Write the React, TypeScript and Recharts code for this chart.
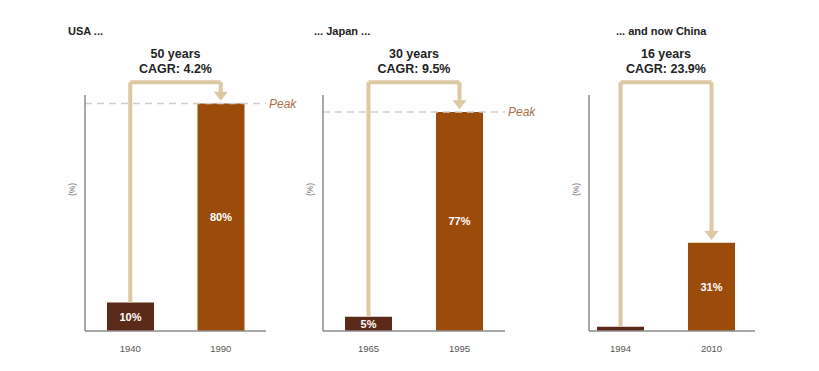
import {
  Bar,
  BarChart,
  Cell,
  LabelList,
  ReferenceLine,
  XAxis,
  YAxis,
} from 'recharts';

const usaYears = ['1940', '1990'];
const usaValues = [10, 80];
const usaLabels = ['10%', '80%'];

const japanYears = ['1965', '1995'];
const japanValues = [5, 77];
const japanLabels = ['5%', '77%'];

const chinaYears = ['1994', '2010'];
const chinaValues = [1.5, 31];
const chinaLabels = ['', '31%'];

const titles = ['USA ...', '... Japan ...', '... and now China'];
const spans = ['50 years', '30 years', '16 years'];
const cagrs = ['CAGR: 4.2%', 'CAGR: 9.5%', 'CAGR: 23.9%'];
const peaks = [80, 77, null];

const COLOR = {
  start: '#5b2a18',
  end: '#9b4c0b',
  arrow: '#dcc8a2',
  axis: '#8c8c8c',
  peakLine: '#cfcfcf',
  peakText: '#a8714a',
  tick: '#555',
};

const ARROW_TOP = 87.5;
const FONT = '"Liberation Sans", Arial, sans-serif';

function ArrowDown(props: any) {
  const { x1, y1, x2, y2 } = props;
  const head = 9;
  const tipY = Math.max(y1, y2);
  const topY = Math.min(y1, y2);
  return (
    <g>
      <line x1={x1} y1={topY} x2={x2} y2={tipY - head + 1} stroke={COLOR.arrow} strokeWidth={4} />
      <polygon
        points={`${x2 - 7},${tipY - head} ${x2 + 7},${tipY - head} ${x2},${tipY}`}
        fill={COLOR.arrow}
      />
    </g>
  );
}

function Note(props: any) {
  const { viewBox, lines } = props;
  const cx = viewBox.x + viewBox.width / 2;
  return (
    <g fontFamily={FONT} fontWeight="bold" fontSize={12.5} fill="#222" textAnchor="middle">
      <text x={cx} y={viewBox.y - 24}>{lines[0]}</text>
      <text x={cx} y={viewBox.y - 9}>{lines[1]}</text>
    </g>
  );
}

function UnitLabel(props: any) {
  const { viewBox } = props;
  const x = viewBox.x - 9;
  const y = viewBox.y + viewBox.height * 0.4;
  return (
    <text
      x={x}
      y={y}
      transform={`rotate(-90 ${x} ${y})`}
      textAnchor="middle"
      fontSize={8.5}
      fill="#777"
      fontFamily={FONT}
    >
      (%)
    </text>
  );
}

function Panel({
  idx,
  years,
  values,
  labels,
  left,
  width,
  margin,
  padding,
}: {
  idx: number;
  years: string[];
  values: number[];
  labels: string[];
  left: number;
  width: number;
  margin: { left: number; right: number };
  padding: { left: number; right: number };
}) {
  const data = years.map((year, i) => ({ year, value: values[i], label: labels[i] }));
  const peak = peaks[idx];
  return (
    <div style={{ position: 'absolute', left, top: 0 }}>
      <BarChart
        width={width}
        height={371}
        data={data}
        margin={{ top: 95, right: margin.right, bottom: 10, left: margin.left - 1 }}
        barSize={47}
      >
        <XAxis
          dataKey="year"
          height={30}
          tickLine={false}
          axisLine={{ stroke: COLOR.axis, strokeWidth: 1.5 }}
          tick={{ fill: COLOR.tick, fontSize: 9.5, fontFamily: FONT }}
          tickMargin={8}
          padding={padding}
        />
        <YAxis
          type="number"
          domain={[0, 83]}
          width={1}
          tick={false}
          tickLine={false}
          axisLine={{ stroke: COLOR.axis, strokeWidth: 1.5 }}
          label={<UnitLabel />}
        />
        {peak !== null && (
          <ReferenceLine
            y={peak}
            stroke={COLOR.peakLine}
            strokeWidth={1.5}
            strokeDasharray="7 5"
            label={{
              value: 'Peak',
              position: 'right',
              offset: 3,
              fill: COLOR.peakText,
              fontStyle: 'italic',
              fontSize: 12,
              fontFamily: FONT,
            }}
          />
        )}
        <Bar dataKey="value" isAnimationActive={false}>
          {data.map((entry, i) => (
            <Cell key={`cell-${entry.year}`} fill={i === 0 ? COLOR.start : COLOR.end} />
          ))}
          <LabelList
            dataKey="label"
            position="center"
            fill="#fff"
            fontWeight="bold"
            fontSize={11}
            fontFamily={FONT}
          />
        </Bar>
        <ReferenceLine
          ifOverflow="visible"
          segment={[
            { x: years[0], y: values[0] },
            { x: years[0], y: ARROW_TOP },
          ]}
          stroke={COLOR.arrow}
          strokeWidth={4}
        />
        <ReferenceLine
          ifOverflow="visible"
          segment={[
            { x: years[0], y: ARROW_TOP },
            { x: years[1], y: ARROW_TOP },
          ]}
          stroke={COLOR.arrow}
          strokeWidth={4}
          label={<Note lines={[spans[idx], cagrs[idx]]} />}
        />
        <ReferenceLine
          ifOverflow="visible"
          segment={[
            { x: years[1], y: ARROW_TOP },
            { x: years[1], y: values[1] + 1 },
          ]}
          shape={<ArrowDown />}
        />
      </BarChart>
    </div>
  );
}

export default function App() {
  const titleStyle = {
    position: 'absolute' as const,
    top: 25,
    fontFamily: FONT,
    fontWeight: 'bold' as const,
    fontSize: 11,
    color: '#222',
    whiteSpace: 'nowrap' as const,
  };
  return (
    <div
      style={{
        position: 'absolute',
        left: 0,
        top: 0,
        width: 819,
        height: 371,
        background: '#fff',
        overflow: 'hidden',
      }}
    >
      <Panel
        idx={0}
        years={usaYears}
        values={usaValues}
        labels={usaLabels}
        left={0}
        width={330}
        margin={{ left: 85, right: 64 }}
        padding={{ left: 0, right: 0 }}
      />
      <Panel
        idx={1}
        years={japanYears}
        values={japanValues}
        labels={japanLabels}
        left={300}
        width={270}
        margin={{ left: 23, right: 65 }}
        padding={{ left: 0, right: 0 }}
      />
      <Panel
        idx={2}
        years={chinaYears}
        values={chinaValues}
        labels={chinaLabels}
        left={560}
        width={259}
        margin={{ left: 29, right: 64 }}
        padding={{ left: -14, right: -2 }}
      />
      <div style={{ ...titleStyle, left: 68 }}>{titles[0]}</div>
      <div style={{ ...titleStyle, left: 314 }}>{titles[1]}</div>
      <div style={{ ...titleStyle, left: 616 }}>{titles[2]}</div>
    </div>
  );
}
